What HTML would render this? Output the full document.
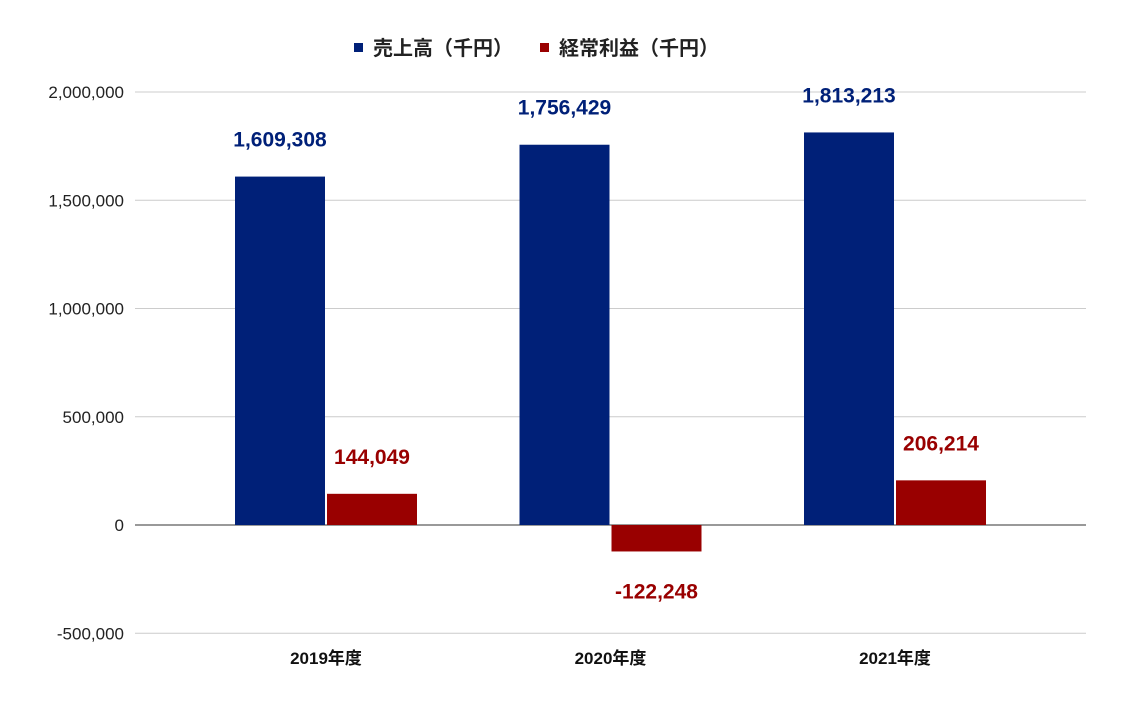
<!DOCTYPE html>
<html><head><meta charset="utf-8"><style>
body{margin:0;background:#fff;}
svg{display:block;font-family:"Liberation Sans","Noto Sans CJK JP",sans-serif;}
</style></head><body>
<svg id="c" width="1122" height="703">
<g id="legend">
<rect x="354" y="43" width="9" height="9" fill="#002078"/>
<text x="373" y="55" font-size="20" font-weight="bold" fill="#222">売上高（千円）</text>
<rect x="540" y="43" width="9" height="9" fill="#990000"/>
<text x="559" y="55" font-size="20" font-weight="bold" fill="#222">経常利益（千円）</text>
</g>
<g id="grid"></g><g id="bars"></g><g id="labels"></g>
</svg>
<script>
const categories=["2019年度","2020年度","2021年度"];
const sales=[1609308,1756429,1813213];
const profit=[144049,-122248,206214];
const ticks=[2000000,1500000,1000000,500000,0,-500000];
const NS="http://www.w3.org/2000/svg";
const y=v=>525-v*(108.25/500000);
const x0=135,x1=1086;
const cx=i=>326+284.5*i;
function el(t,a,p,txt){const e=document.createElementNS(NS,t);for(const k in a)e.setAttribute(k,a[k]);if(txt!==undefined)e.textContent=txt;document.getElementById(p).appendChild(e);return e;}
const fmt=v=>v.toLocaleString("en-US");
ticks.forEach(t=>{
 const l=el("line",{x1:x0,x2:x1,y1:y(t),y2:y(t),stroke:t===0?"#333":"#ccc","stroke-width":1},"grid");
 
 
 const tx=el("text",{x:124,y:y(t)+6,"text-anchor":"end","font-size":17,fill:"#222"},"grid",fmt(t));
 
 
});
categories.forEach((c,i)=>{
 const c0=cx(i);
 const b=el("rect",{x:c0-91,width:90,y:Math.min(y(sales[i]),y(0)),height:Math.abs(y(sales[i])-y(0)),fill:"#002078"},"bars");
 
 
 const r=el("rect",{x:c0+1,width:90,y:Math.min(y(profit[i]),y(0)),height:Math.abs(y(profit[i])-y(0)),fill:"#990000"},"bars");
 
 
 const sl=el("text",{x:c0-46,y:y(sales[i])-30,"text-anchor":"middle","font-size":21,"font-weight":"bold",fill:"#002078"},"labels",fmt(sales[i]));
 
 
 const py=profit[i]>=0?y(profit[i])-30:y(profit[i])+47;
 const pl=el("text",{x:c0+46,y:py,"text-anchor":"middle","font-size":21,"font-weight":"bold",fill:"#990000"},"labels",fmt(profit[i]));
 
 
 const xl=el("text",{x:c0,y:664,"text-anchor":"middle","font-size":17,"font-weight":"bold",fill:"#111"},"labels",c);
 
 
});
</script>
</body></html>
